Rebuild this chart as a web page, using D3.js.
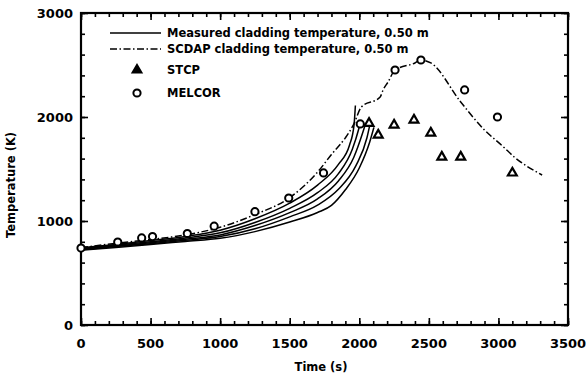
<!DOCTYPE html>
<html>
<head>
<meta charset="utf-8">
<script src="https://cdn.jsdelivr.net/npm/d3@7"></script>
<style>
    body { margin: 0; background: #fff; }
    svg text { font-family: "DejaVu Sans", sans-serif; font-weight: bold; fill: #000; }
</style>
</head>
<body>
<svg id="chart" width="586" height="378"></svg>
<script>
// ticks
const xTicks = [0, 500, 1000, 1500, 2000, 2500, 3000, 3500];
const yTicks = [0, 1000, 2000, 3000];

// measured cladding temperature, 0.50 m (several thermocouples) [time, K]
const measured1 = [[0,742],[250,775],[500,812],[750,852],[1000,912],[1250,1022],[1500,1172],[1700,1345],[1850,1545],[1930,1730],[1962,1920],[1972,2110]];
const measured2 = [[0,736],[250,767],[500,800],[750,837],[1000,886],[1250,986],[1500,1122],[1700,1272],[1850,1455],[1950,1690],[1995,1880],[2008,1950]];
const measured3 = [[0,730],[250,760],[500,790],[750,825],[1000,866],[1250,956],[1500,1080],[1700,1212],[1850,1385],[1960,1610],[2025,1850],[2045,1935]];
const measured4 = [[0,724],[250,754],[500,782],[750,814],[1000,850],[1250,925],[1500,1040],[1700,1152],[1850,1305],[1975,1530],[2055,1800],[2075,1920]];
const measured5 = [[0,718],[250,746],[500,774],[750,804],[1000,834],[1250,898],[1500,990],[1700,1082],[1800,1150],[1900,1300],[2000,1510],[2075,1760],[2105,1900]];
const measuredSeries = [measured1, measured2, measured3, measured4, measured5];

// SCDAP cladding temperature, 0.50 m
const scdap = [[0,745],[250,785],[500,822],[750,866],[1000,940],[1250,1062],[1500,1225],[1700,1470],[1800,1640],[1900,1800],[1960,1930],[2015,2096],[2150,2192],[2171,2260],[2207,2337],[2257,2452],[2400,2519],[2443,2548],[2514,2520],[2729,2144],[2900,1875],[3029,1721],[3114,1615],[3314,1442]];

// STCP
const stcp = [[2070,1940],[2136,1827],[2250,1923],[2393,1971],[2514,1846],[2593,1615],[2729,1615],[3100,1462]];

// MELCOR
const melcor = [[0,740],[264,798],[436,837],[514,850],[764,880],[957,950],[1250,1090],[1493,1221],[1743,1462],[2007,1933],[2257,2452],[2443,2548],[2757,2260],[2993,2000]];

const legendLabels = ['Measured cladding temperature, 0.50 m', 'SCDAP cladding temperature, 0.50 m', 'STCP', 'MELCOR'];

let svg = d3.select('#chart');
let margin = {left: 81, top: 13, right: 18, bottom: 53};
let width = 586 - margin.left - margin.right;
let height = 378 - margin.top - margin.bottom;

let xScale = d3.scaleLinear().domain([0, 3500]).range([margin.left, margin.left + width]);
let yScale = d3.scaleLinear().domain([0, 3000]).range([margin.top + height, margin.top]);

let line = d3.line()
    .x(function(d){ return xScale(d[0]); })
    .y(function(d){ return yScale(d[1]); })
    .curve(d3.curveMonotoneX);

let triangle = d3.symbol().type(d3.symbolTriangle).size(34);
let dashDot = '7,2.5,1.5,2.5';

// ****** axes ****** //
// bottom / top: minor every 100 s, major every 500 s, ticks pointing inward
let xMinor = d3.range(0, 3501, 100);
let yMinor = d3.range(0, 3001, 200);

svg.append('g')
    .attr('transform', 'translate(0,' + (margin.top + height) + ')')
    .call(d3.axisTop(xScale).tickValues(xMinor).tickSize(4).tickFormat(''))
    .call(function(g){ g.select('.domain').remove(); });
svg.append('g')
    .attr('transform', 'translate(0,' + (margin.top + height) + ')')
    .call(d3.axisTop(xScale).tickValues(xTicks).tickSize(7).tickFormat(''))
    .call(function(g){ g.select('.domain').remove(); });
svg.append('g')
    .attr('transform', 'translate(0,' + margin.top + ')')
    .call(d3.axisBottom(xScale).tickValues(xMinor).tickSize(4).tickFormat(''))
    .call(function(g){ g.select('.domain').remove(); });
svg.append('g')
    .attr('transform', 'translate(0,' + margin.top + ')')
    .call(d3.axisBottom(xScale).tickValues(xTicks).tickSize(7).tickFormat(''))
    .call(function(g){ g.select('.domain').remove(); });

// left / right: minor every 200 K
svg.append('g')
    .attr('transform', 'translate(' + margin.left + ',0)')
    .call(d3.axisRight(yScale).tickValues(yMinor).tickSize(4).tickFormat(''))
    .call(function(g){ g.select('.domain').remove(); });
svg.append('g')
    .attr('transform', 'translate(' + margin.left + ',0)')
    .call(d3.axisRight(yScale).tickValues(yTicks).tickSize(7).tickFormat(''))
    .call(function(g){ g.select('.domain').remove(); });
svg.append('g')
    .attr('transform', 'translate(' + (margin.left + width) + ',0)')
    .call(d3.axisLeft(yScale).tickValues(yMinor).tickSize(4).tickFormat(''))
    .call(function(g){ g.select('.domain').remove(); });
svg.append('g')
    .attr('transform', 'translate(' + (margin.left + width) + ',0)')
    .call(d3.axisLeft(yScale).tickValues(yTicks).tickSize(7).tickFormat(''))
    .call(function(g){ g.select('.domain').remove(); });

svg.selectAll('.tick line').attr('stroke', '#000').attr('stroke-width', 1.6);

// frame
svg.append('rect')
    .attr('x', margin.left).attr('y', margin.top)
    .attr('width', width).attr('height', height)
    .attr('fill', 'none').attr('stroke', '#000').attr('stroke-width', 2.2);

// tick labels
svg.append('g').selectAll('text').data(xTicks).enter().append('text')
    .attr('x', function(d){ return xScale(d); })
    .attr('y', margin.top + height + 23)
    .attr('text-anchor', 'middle')
    .style('font-size', '13px')
    .text(function(d){ return d; });
svg.append('g').selectAll('text').data(yTicks).enter().append('text')
    .attr('x', margin.left - 8)
    .attr('y', function(d){ return yScale(d); })
    .attr('dy', '0.36em')
    .attr('text-anchor', 'end')
    .style('font-size', '13px')
    .text(function(d){ return d; });

// axis titles
svg.append('text')
    .attr('x', 321).attr('y', 371)
    .attr('text-anchor', 'middle')
    .style('font-size', '11.5px')
    .text('Time (s)');
svg.append('text')
    .attr('transform', 'translate(15,185) rotate(-90)')
    .attr('text-anchor', 'middle')
    .style('font-size', '11.5px')
    .text('Temperature (K)');

// ****** data ****** //
svg.append('g').selectAll('path').data(measuredSeries).enter().append('path')
    .attr('d', line)
    .attr('fill', 'none').attr('stroke', '#000').attr('stroke-width', 1.5);

svg.append('path')
    .attr('d', line(scdap))
    .attr('fill', 'none').attr('stroke', '#000').attr('stroke-width', 1.5)
    .attr('stroke-dasharray', dashDot);

svg.append('g').selectAll('path').data(stcp).enter().append('path')
    .attr('d', triangle)
    .attr('transform', function(d){ return 'translate(' + xScale(d[0]) + ',' + yScale(d[1]) + ')'; })
    .attr('fill', '#fff').attr('stroke', '#000').attr('stroke-width', 2.2);

svg.append('g').selectAll('circle').data(melcor).enter().append('circle')
    .attr('cx', function(d){ return xScale(d[0]); })
    .attr('cy', function(d){ return yScale(d[1]); })
    .attr('r', 3.6)
    .attr('fill', '#fff').attr('stroke', '#000').attr('stroke-width', 2);

// ****** legend ****** //
let legend = svg.append('g');
let legendY = [33, 49, 70, 93];
legend.append('line')
    .attr('x1', 110).attr('x2', 161).attr('y1', legendY[0]).attr('y2', legendY[0])
    .attr('stroke', '#000').attr('stroke-width', 1.6);
legend.append('line')
    .attr('x1', 110).attr('x2', 161).attr('y1', legendY[1]).attr('y2', legendY[1])
    .attr('stroke', '#000').attr('stroke-width', 1.4)
    .attr('stroke-dasharray', dashDot);
legend.append('path')
    .attr('d', triangle)
    .attr('transform', 'translate(137,' + legendY[2] + ')')
    .attr('fill', '#000').attr('stroke', '#000').attr('stroke-width', 2);
legend.append('circle')
    .attr('cx', 137).attr('cy', legendY[3]).attr('r', 3.6)
    .attr('fill', '#fff').attr('stroke', '#000').attr('stroke-width', 2);
legend.selectAll('text').data(legendLabels).enter().append('text')
    .attr('x', 167)
    .attr('y', function(d, i){ return legendY[i]; })
    .attr('dy', '0.36em')
    .style('font-size', '11.5px')
    .text(function(d){ return d; });
</script>
</body>
</html>
